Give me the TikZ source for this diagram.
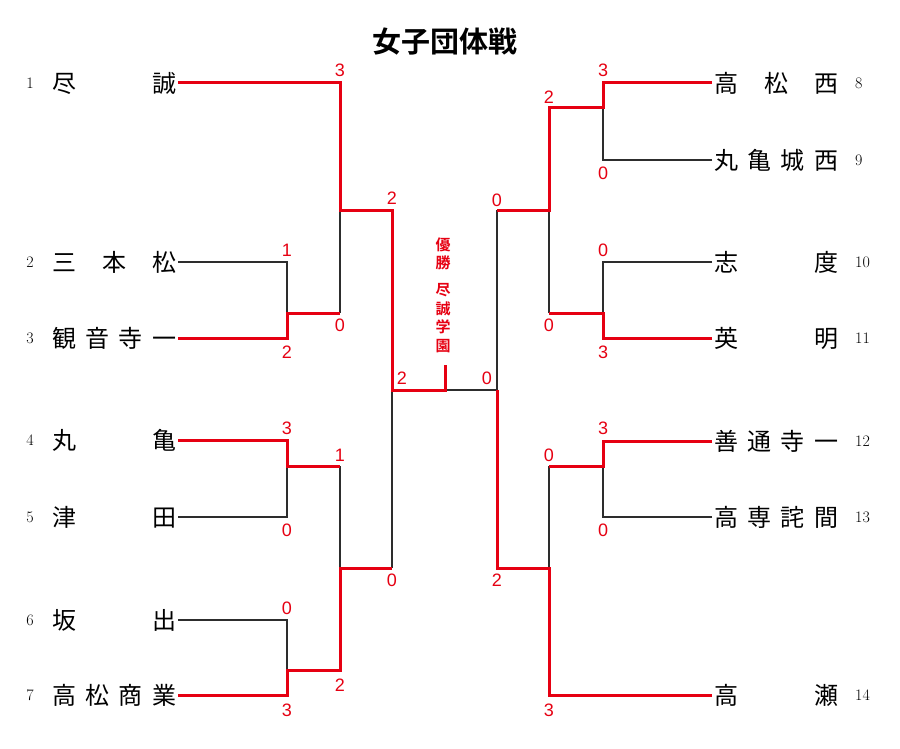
\documentclass[tikz,border=0pt]{standalone}
\usepackage{fontspec}
\newfontfamily\jp{Noto Sans CJK JP}
\newfontfamily\jpb{Noto Sans CJK JP Bold}
\setsansfont{Liberation Sans}
\definecolor{wincol}{RGB}{230,0,18}
\definecolor{losecol}{RGB}{45,45,45}
\newcommand\tnm[1]{\makebox[124pt]{#1}}
\begin{document}
\begin{tikzpicture}[x=1pt,y=-1pt,
  loseline/.style={draw=losecol,line width=1.5pt},
  winline/.style={draw=wincol,line width=3pt},
  team/.style={inner sep=0pt,font=\jp\fontsize{24}{28}\selectfont,text=black},
  seed/.style={inner sep=0pt,font=\fontsize{16}{18}\selectfont,text=black},
  score/.style={inner sep=0pt,font=\sffamily\fontsize{18}{20}\selectfont,text=wincol},
  champ/.style={inner sep=0pt,align=center,text=wincol,font=\jpb\fontsize{15}{18.5}\selectfont}]
\useasboundingbox (0,0) rectangle (900,749);
\fill[white] (0,0) rectangle (900,749);
\node[inner sep=0pt,font=\jpb\fontsize{29}{32}\selectfont] (title) at (445,42) {女子団体戦};
% left teams
\node[seed] (s1) at (30,83) {1};
\node[seed] (s2) at (30,262) {2};
\node[seed] (s3) at (30,338) {3};
\node[seed] (s4) at (30,440) {4};
\node[seed] (s5) at (30,517) {5};
\node[seed] (s6) at (30,620) {6};
\node[seed] (s7) at (30,695) {7};
\node[team,anchor=west] (n1) at (52,83) {\tnm{尽\hfill 誠}};
\node[team,anchor=west] (n2) at (52,262) {\tnm{三\hfill 本\hfill 松}};
\node[team,anchor=west] (n3) at (52,338) {\tnm{観\hfill 音\hfill 寺\hfill 一}};
\node[team,anchor=west] (n4) at (52,440) {\tnm{丸\hfill 亀}};
\node[team,anchor=west] (n5) at (52,517) {\tnm{津\hfill 田}};
\node[team,anchor=west] (n6) at (52,620) {\tnm{坂\hfill 出}};
\node[team,anchor=west] (n7) at (52,695) {\tnm{高\hfill 松\hfill 商\hfill 業}};
% right teams
\node[team,anchor=west] (n8) at (714,83) {\tnm{高\hfill 松\hfill 西}};
\node[team,anchor=west] (n9) at (714,160) {\tnm{丸\hfill 亀\hfill 城\hfill 西}};
\node[team,anchor=west] (n10) at (714,262) {\tnm{志\hfill 度}};
\node[team,anchor=west] (n11) at (714,338) {\tnm{英\hfill 明}};
\node[team,anchor=west] (n12) at (714,441) {\tnm{善\hfill 通\hfill 寺\hfill 一}};
\node[team,anchor=west] (n13) at (714,517) {\tnm{高\hfill 専\hfill 詫\hfill 間}};
\node[team,anchor=west] (n14) at (714,695) {\tnm{高\hfill 瀬}};
\node[seed,anchor=west] (s8) at (855,83) {8};
\node[seed,anchor=west] (s9) at (855,160) {9};
\node[seed,anchor=west] (s10) at (855,262) {10};
\node[seed,anchor=west] (s11) at (855,338) {11};
\node[seed,anchor=west] (s12) at (855,441) {12};
\node[seed,anchor=west] (s13) at (855,517) {13};
\node[seed,anchor=west] (s14) at (855,695) {14};
% left coordinates
\coordinate (p1) at (340,83);
\coordinate (q23a) at (287,262);
\coordinate (q23b) at (287,338);
\coordinate (j23) at (287,313);
\coordinate (j23r) at (340,313);
\coordinate (j1) at (340,210);
\coordinate (j1r) at (392,210);
\coordinate (q45a) at (287,440);
\coordinate (q45b) at (287,517);
\coordinate (j45) at (287,466);
\coordinate (j45r) at (340,466);
\coordinate (q67a) at (287,620);
\coordinate (q67b) at (287,695);
\coordinate (j67) at (287,670);
\coordinate (j67r) at (340,670);
\coordinate (j47) at (340,568);
\coordinate (j47r) at (392,568);
\coordinate (jL) at (392,390);
\coordinate (mid) at (445,390);
\coordinate (tick) at (445,365);
\coordinate (jR) at (497,390);
% right coordinates
\coordinate (t8) at (603,83);
\coordinate (t9) at (603,160);
\coordinate (j89) at (603,108);
\coordinate (j89l) at (549,108);
\coordinate (t10) at (603,262);
\coordinate (t11) at (603,338);
\coordinate (j1011) at (603,313);
\coordinate (j1011l) at (549,313);
\coordinate (k8) at (549,210);
\coordinate (k8l) at (497,210);
\coordinate (t12) at (603,441);
\coordinate (t13) at (603,517);
\coordinate (j1213) at (603,466);
\coordinate (j1213l) at (549,466);
\coordinate (t14) at (549,695);
\coordinate (k14) at (549,568);
\coordinate (k14l) at (497,568);
% losing lines
\draw[loseline] ([xshift=2pt]n2.east) -- (q23a) -- (j23);
\draw[loseline] (j23r) -- (j1);
\draw[loseline] ([xshift=2pt]n5.east) -- (q45b) -- (j45);
\draw[loseline] ([xshift=2pt]n6.east) -- (q67a) -- (j67);
\draw[loseline] (j45r) -- (j47);
\draw[loseline] (j47r) -- (jL);
\draw[loseline] (mid) -- (jR);
\draw[loseline] ([xshift=-2pt]n9.west) -- (t9) -- (j89);
\draw[loseline] ([xshift=-2pt]n10.west) -- (t10) -- (j1011);
\draw[loseline] (j1011l) -- (k8);
\draw[loseline] ([xshift=-2pt]n13.west) -- (t13) -- (j1213);
\draw[loseline] (j1213l) -- (k14);
\draw[loseline] (k8l) -- (jR);
% winning lines
\draw[winline] ([xshift=2pt]n1.east) -- (p1) -- (j1) -- (j1r) -- (jL) -- (mid) -- (tick);
\draw[winline] ([xshift=2pt]n3.east) -- (q23b) -- (j23) -- (j23r);
\draw[winline] ([xshift=2pt]n4.east) -- (q45a) -- (j45) -- (j45r);
\draw[winline] ([xshift=2pt]n7.east) -- (q67b) -- (j67) -- (j67r) -- (j47) -- (j47r);
\draw[winline] ([xshift=-2pt]n8.west) -- (t8) -- (j89) -- (j89l) -- (k8) -- (k8l);
\draw[winline] ([xshift=-2pt]n11.west) -- (t11) -- (j1011) -- (j1011l);
\draw[winline] ([xshift=-2pt]n12.west) -- (t12) -- (j1213) -- (j1213l);
\draw[winline] ([xshift=-2pt]n14.west) -- (t14) -- (k14) -- (k14l) -- (jR);
% champion
\node[champ] (champA) at (443,254) {優\\勝};
\node[champ] (champB) at (443,318) {尽\\誠\\学\\園};
% scores left
\node[score] at (340,70) {3};
\node[score] at (287,250) {1};
\node[score] at (287,352) {2};
\node[score] at (340,325) {0};
\node[score] at (392,198) {2};
\node[score] at (287,428) {3};
\node[score] at (287,530) {0};
\node[score] at (340,455) {1};
\node[score] at (287,608) {0};
\node[score] at (287,710) {3};
\node[score] at (340,685) {2};
\node[score] at (392,580) {0};
\node[score] at (402,378) {2};
% scores right
\node[score] at (603,70) {3};
\node[score] at (603,173) {0};
\node[score] at (549,97) {2};
\node[score] at (549,325) {0};
\node[score] at (603,250) {0};
\node[score] at (603,352) {3};
\node[score] at (497,200) {0};
\node[score] at (487,378) {0};
\node[score] at (603,428) {3};
\node[score] at (603,530) {0};
\node[score] at (549,455) {0};
\node[score] at (549,710) {3};
\node[score] at (497,580) {2};
\end{tikzpicture}
\end{document}
